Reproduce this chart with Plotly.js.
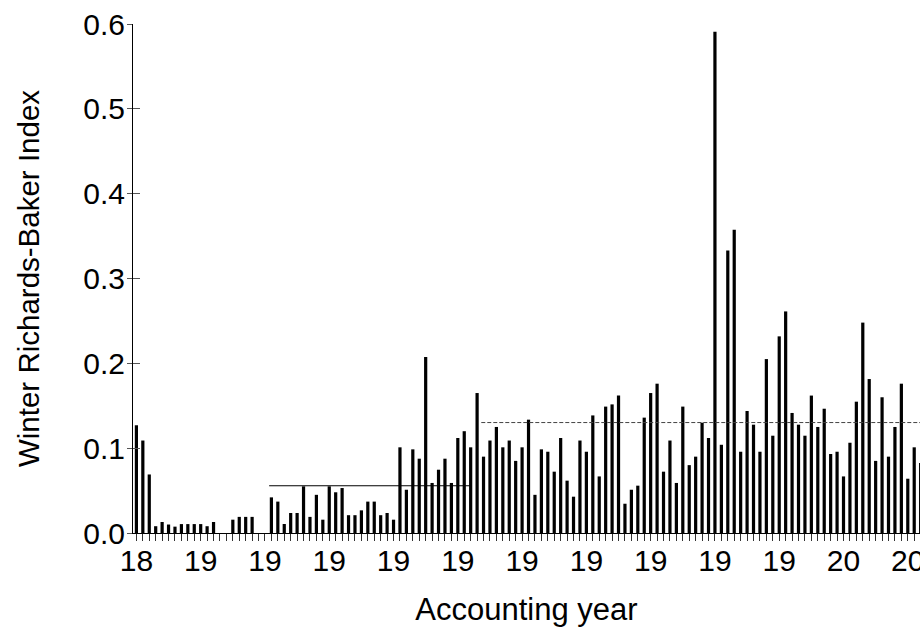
<!DOCTYPE html>
<html>
<head>
<meta charset="utf-8">
<script src="https://cdn.plot.ly/plotly-3.0.1.min.js"></script>
<style>
  html, body { margin: 0; padding: 0; background: #fff; overflow: hidden; }
  #chart { width: 920px; height: 636px; }
</style>
</head>
<body>
<div id="chart"></div>
<script>
// Winter Richards-Baker Index per accounting year (first bar = 1890)
const firstYear = 1890;
const rbIndex = [
  0.127, 0.109, 0.069, 0.008, 0.013, 0.010, 0.0075, 0.0105, 0.0105, 0.0105,
  0.0105, 0.008, 0.013, null, null, 0.0157, 0.019, 0.019, 0.019, null,
  null, 0.042, 0.037, 0.0106, 0.0236, 0.0236, 0.055, 0.019, 0.045, 0.0157,
  0.055, 0.048, 0.053, 0.021, 0.021, 0.0267, 0.037, 0.037, 0.021, 0.0236,
  0.0157, 0.101, 0.051, 0.0986, 0.0876, 0.2075, 0.059, 0.0746, 0.0876, 0.059,
  0.112, 0.120, 0.101, 0.165, 0.090, 0.109, 0.125, 0.101, 0.109, 0.085,
  0.101, 0.1336, 0.045, 0.0986, 0.0958, 0.0723, 0.112, 0.0617, 0.0428, 0.109,
  0.0958, 0.1386, 0.0667, 0.149, 0.1516, 0.162, 0.0345, 0.051, 0.0558, 0.136,
  0.165, 0.176, 0.0723, 0.109, 0.059, 0.149, 0.080, 0.090, 0.130, 0.112,
  0.591, 0.104, 0.333, 0.3575, 0.0958, 0.1438, 0.1277, 0.0958, 0.205, 0.1147,
  0.2318, 0.2612, 0.1415, 0.1277, 0.1147, 0.162, 0.125, 0.1465, 0.0931, 0.0958,
  0.0667, 0.1064, 0.1548, 0.248, 0.1815, 0.085, 0.160, 0.090, 0.125, 0.176,
  0.064, 0.101, 0.0825
];
const years = rbIndex.map((_, i) => firstYear + i);

// Period means (horizontal reference lines)
const periodStart = [1910.65, 1943.65];
const periodEnd   = [1941.95, 2014];
const periodMean  = [0.0557, 0.1302];

// Axis ticks
const xTickYears  = [1890, 1900, 1910, 1920, 1930, 1940, 1950, 1960, 1970, 1980, 1990, 2000, 2010];
const xTickLabels = ['18', '19', '19', '19', '19', '19', '19', '19', '19', '19', '19', '20', '20'];
const yTickVals   = [0, 0.1, 0.2, 0.3, 0.4, 0.5, 0.6];

const FONT = '"Liberation Sans", Arial, sans-serif';

const traces = [
  {
    type: 'bar', x: years, y: rbIndex, width: 0.5,
    marker: { color: '#000', line: { width: 0 } },
    hoverinfo: 'x+y'
  },
  {
    type: 'scatter', mode: 'lines',
    x: [periodStart[0], periodEnd[0]], y: [periodMean[0], periodMean[0]],
    line: { color: '#000', width: 1 }
  },
  {
    type: 'scatter', mode: 'lines',
    x: [periodStart[1], periodEnd[1]], y: [periodMean[1], periodMean[1]],
    line: { color: '#444', width: 1, dash: '4px,2px' }
  },
  { type: 'scatter', x: [], y: [], yaxis: 'y2', hoverinfo: 'skip' }
];

const layout = {
  width: 920, height: 636,
  margin: { l: 133, r: 0, t: 24, b: 103, pad: 0 },
  paper_bgcolor: '#fff', plot_bgcolor: '#fff',
  showlegend: false,
  font: { family: FONT, color: '#000' },
  xaxis: {
    range: [1889.47, 2011.9],
    showline: true, linecolor: '#000', linewidth: 1,
    showgrid: false, zeroline: false,
    tickmode: 'array', tickvals: xTickYears, ticktext: xTickLabels,
    ticks: 'outside', ticklen: 7, tickwidth: 1, tickcolor: '#333',
    ticklabeloverflow: 'allow',
    ticklabelstandoff: -6,
    minor: { tick0: firstYear, dtick: 1, ticks: 'outside', ticklen: 7, tickwidth: 1, tickcolor: '#333', showgrid: false },
    tickfont: { family: FONT, size: 30, color: '#000' },
    title: { text: 'Accounting year', font: { family: FONT, size: 31, color: '#000' }, standoff: 22 },
    automargin: false
  },
  yaxis: {
    range: [0, 0.6],
    showline: true, linecolor: '#000', linewidth: 1,
    showgrid: false, zeroline: false,
    tickmode: 'array', tickvals: yTickVals, tickformat: '.1f',
    ticks: 'outside', ticklen: 5, tickwidth: 1, tickcolor: '#555',
    ticklabelstandoff: -4,
    tickfont: { family: FONT, size: 30, color: '#000' },
    title: { text: 'Winter Richards-Baker Index', font: { family: FONT, size: 29.5, color: '#000' }, standoff: 34 },
    automargin: false
  },
  yaxis2: {
    range: [0, 0.6], overlaying: 'y', side: 'left',
    showline: false, showgrid: false, zeroline: false,
    tickmode: 'array', tickvals: yTickVals,
    ticks: 'inside', ticklen: 7, tickwidth: 1, tickcolor: '#555',
    showticklabels: false
  }
};

Plotly.newPlot('chart', traces, layout, { displayModeBar: false, staticPlot: true });
</script>
</body>
</html>
